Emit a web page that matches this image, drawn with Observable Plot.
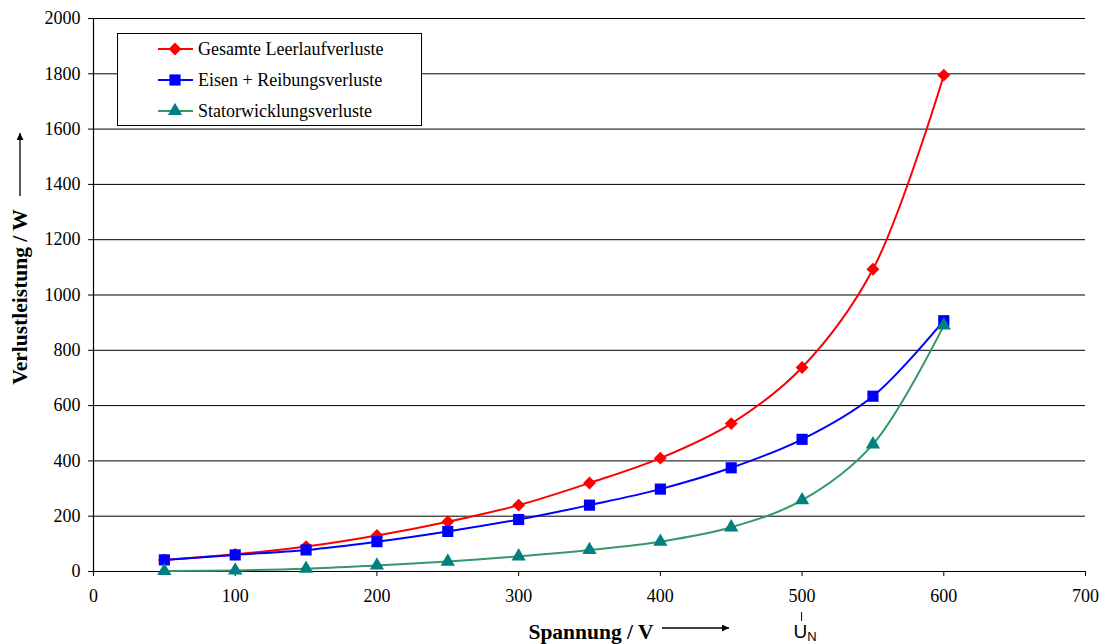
<!DOCTYPE html>
<html>
<head>
<meta charset="utf-8">
<script src="https://cdn.jsdelivr.net/npm/d3@7"></script>
<script src="https://cdn.jsdelivr.net/npm/@observablehq/plot@0.6"></script>
<style>
  html, body { margin: 0; padding: 0; background: white; }
  #chart svg { display: block; }
  #chart svg text { font-family: "Liberation Serif", "Times New Roman", serif; }
</style>
</head>
<body>
<div id="chart"></div>
<script>
// Data
const voltage = [50, 100, 150, 200, 250, 300, 350, 400, 450, 500, 550, 600];
const gesamt  = [42, 62, 90, 130, 180, 240, 320, 410, 535, 738, 1093, 1795];
const eisen   = [42, 60, 78, 108, 145, 188, 240, 298, 375, 478, 634, 907];
const stator  = [2, 4, 10, 22, 36, 55, 78, 108, 160, 258, 460, 890];
const seriesNames = ["Gesamte Leerlaufverluste", "Eisen + Reibungsverluste", "Statorwicklungsverluste"];
const xTicks = [0, 100, 200, 300, 400, 500, 600, 700];
const yTicks = [0, 200, 400, 600, 800, 1000, 1200, 1400, 1600, 1800, 2000];

const styles = [
  {line: "#FF0000", fill: "#FF0000", symbol: "diamond2", r: 5.8},
  {line: "#0000FF", fill: "#0000FF", symbol: "square", r: 6.3},
  {line: "#339966", fill: "#008080", symbol: "triangle", r: 5.3}
];
const values = [gesamt, eisen, stator];
const data = values.flatMap((vals, s) => voltage.map((v, i) => ({x: v, y: vals[i], s})));

const lineMarks = [];
const dotMarks = [];
values.forEach((vals, s) => {
  const d = data.filter(e => e.s === s);
  lineMarks.push(Plot.line(d, {x: "x", y: "y", stroke: styles[s].line, strokeWidth: 2, curve: "catmull-rom"}));
  dotMarks.push(Plot.dot(d, {x: "x", y: "y", fill: styles[s].fill, stroke: "none", symbol: styles[s].symbol, r: styles[s].r}));
});

const chart = Plot.plot({
  width: 1102,
  height: 644,
  marginLeft: 93,
  marginRight: 17,
  marginTop: 18,
  marginBottom: 73,
  style: {fontFamily: "Liberation Serif, serif", fontSize: "18px", color: "black", background: "white"},
  x: {domain: [0, 700], label: null},
  y: {domain: [0, 2000], label: null},
  marks: [
    Plot.gridY(yTicks, {stroke: "black", strokeOpacity: 1, strokeWidth: 1}),
    Plot.axisX(xTicks, {tickSize: 5, tickPadding: 13, tickFormat: "d", stroke: "black", fill: "black", label: null, fontSize: 18}),
    Plot.axisY(yTicks, {tickSize: 5, tickPadding: 8, tickFormat: "d", stroke: "black", fill: "black", label: null, fontSize: 18}),
    Plot.ruleX([0], {stroke: "black", strokeWidth: 1.2}),
    Plot.ruleY([0], {stroke: "black", strokeWidth: 1.2}),
    ...lineMarks,
    ...dotMarks
  ]
});

document.getElementById("chart").appendChild(chart);

// Decorations: legend, axis titles, arrows, U_N marker
const svg = d3.select(chart);
const xs = chart.scale("x"), ys = chart.scale("y");
const defs = svg.append("defs");
defs.append("marker").attr("id", "arr").attr("viewBox", "0 0 10 10").attr("refX", 10).attr("refY", 5)
  .attr("markerWidth", 10).attr("markerHeight", 7).attr("markerUnits", "userSpaceOnUse").attr("orient", "auto")
  .append("path").attr("d", "M0,0 L10,5 L0,10 z").attr("fill", "black");

// X title
const bottom = ys.apply(0);
svg.append("text").attr("x", 591).attr("y", bottom + 68).attr("text-anchor", "middle")
  .attr("font-weight", "bold").attr("font-size", 21.5)
  .text("Spannung / V");
svg.append("line").attr("x1", 662).attr("x2", 729).attr("y1", bottom + 57).attr("y2", bottom + 57)
  .attr("stroke", "black").attr("stroke-width", 1.3).attr("marker-end", "url(#arr)");

// Y title
const yt = svg.append("g").attr("transform", "translate(27,297) rotate(-90)");
yt.append("text").attr("x", 0).attr("y", 0).attr("text-anchor", "middle")
  .attr("font-weight", "bold").attr("font-size", 21.5)
  .text("Verlustleistung / W");
svg.append("line").attr("x1", 20).attr("x2", 20).attr("y1", 196).attr("y2", 133)
  .attr("stroke", "black").attr("stroke-width", 1.3).attr("marker-end", "url(#arr)");

// U_N marker under 500
const xun = xs.apply(500);
svg.append("line").attr("x1", xun).attr("x2", xun).attr("y1", bottom + 41).attr("y2", bottom + 50)
  .attr("stroke", "black").attr("stroke-width", 1);
const un = svg.append("text").attr("x", xun - 8).attr("y", bottom + 67).attr("text-anchor", "start")
  .style("font-family", "'Liberation Sans', Arial, sans-serif").attr("font-size", 19);
un.append("tspan").text("U");
un.append("tspan").attr("font-size", 13).attr("dy", 3).text("N");

// Legend
const lg = svg.append("g");
lg.append("rect").attr("x", 117.5).attr("y", 33.5).attr("width", 304).attr("height", 92)
  .attr("fill", "white").attr("stroke", "black").attr("stroke-width", 1);
const symbolTypes = {diamond2: d3.symbolDiamond2, square: d3.symbolSquare, triangle: d3.symbolTriangle};
seriesNames.forEach((name, i) => {
  const cy = 49 + i * 31;
  lg.append("line").attr("x1", 158).attr("x2", 193).attr("y1", cy).attr("y2", cy)
    .attr("stroke", styles[i].line).attr("stroke-width", 2);
  const area = Math.PI * styles[i].r * styles[i].r;
  lg.append("path").attr("transform", `translate(175,${cy})`)
    .attr("d", d3.symbol(symbolTypes[styles[i].symbol], area)()).attr("fill", styles[i].fill);
  lg.append("text").attr("x", 198).attr("y", cy).attr("dy", "0.35em").attr("text-anchor", "start")
    .attr("font-size", 18).text(name);
});
</script>
</body>
</html>
